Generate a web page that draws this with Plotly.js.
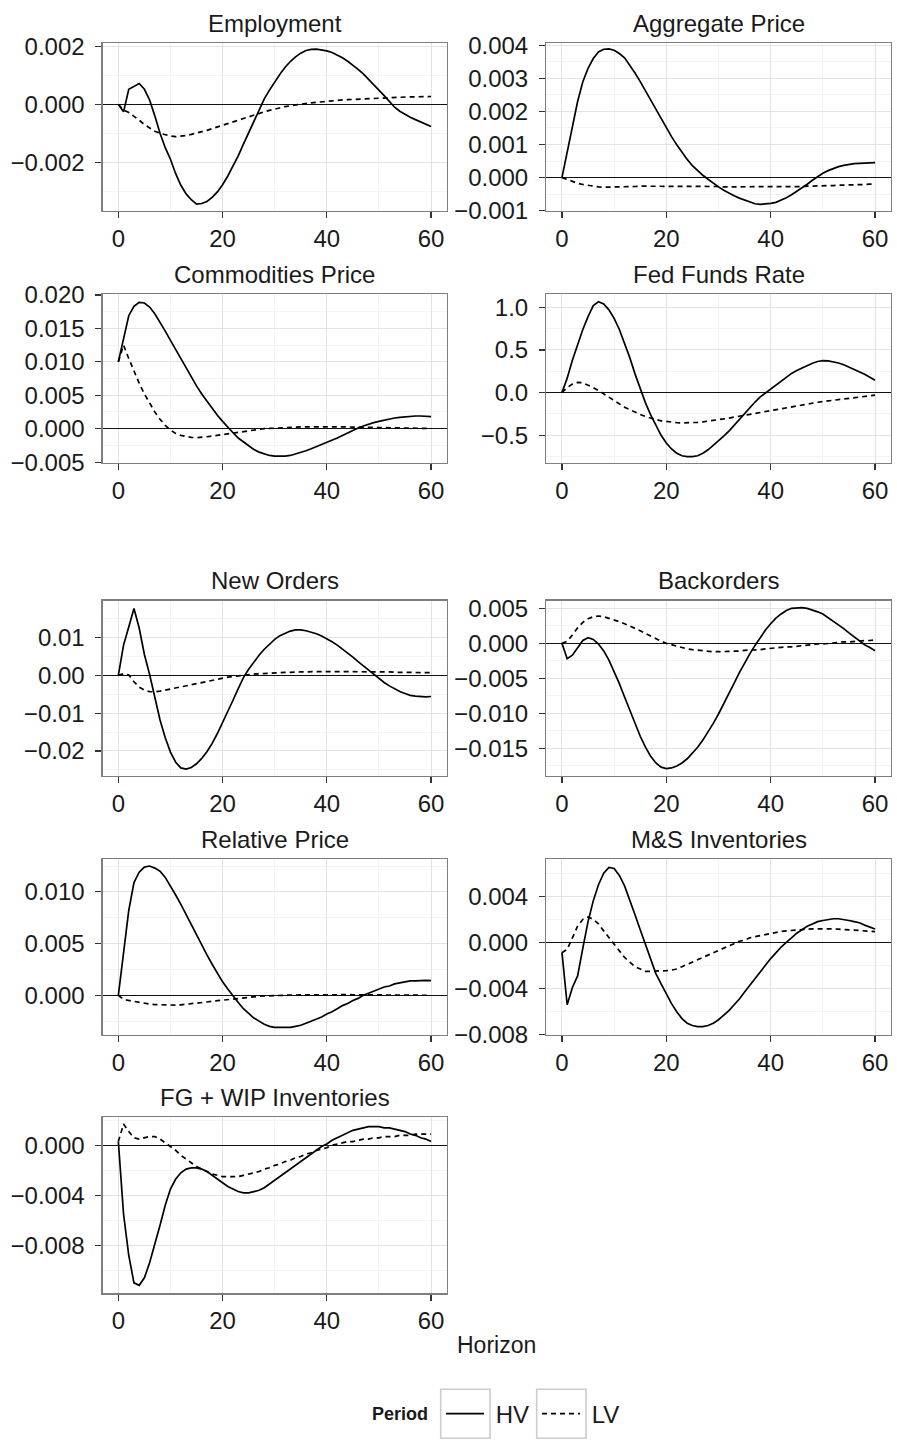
<!DOCTYPE html>
<html><head><meta charset="utf-8">
<script src="https://cdn.plot.ly/plotly-3.0.1.min.js"></script>
<style>html,body{margin:0;padding:0;background:#fff}#chart{width:897px;height:1450px}</style>
</head><body><div id="chart"></div>
<script>
const horizon = [0,1,2,3,4,5,6,7,8,9,10,11,12,13,14,15,16,17,18,19,20,21,22,23,24,25,26,27,28,29,30,
  31,32,33,34,35,36,37,38,39,40,41,42,43,44,45,46,47,48,49,50,51,52,53,54,55,56,57,58,59,60];

const panelTitles = ["Employment","Aggregate Price","Commodities Price","Fed Funds Rate","New Orders",
  "Backorders","Relative Price","M&S Inventories","FG + WIP Inventories"];
const periods = ["HV","LV"];

const employmentHV = [0,-0.00026,0.00052,0.00062,0.00072,0.00052,0.00015,-0.0004,-0.001,-0.0015,
  -0.0019,-0.0024,-0.0028,-0.0031,-0.0033,-0.00345,-0.00343,-0.00336,-0.00322,-0.00303,
  -0.00278,-0.00248,-0.00215,-0.00178,-0.00138,-0.00098,-0.00057,-0.00016,0.00019,0.00049,
  0.00078,0.00104,0.00128,0.00148,0.00164,0.00177,0.00186,0.0019,0.00191,0.00189,
  0.00185,0.00179,0.00171,0.00161,0.00149,0.00136,0.00121,0.00105,0.00087,0.00069,
  0.0005,0.0003,0.0001,-0.0001,-0.00024,-0.00035,-0.00045,-0.00053,-0.00061,-0.00069,-0.00077];
const employmentLV = [0,-0.0002,-0.00028,-0.0004,-0.00055,-0.0007,-0.00082,-0.00093,-0.001,-0.00106,
  -0.0011,-0.00112,-0.00111,-0.00108,-0.00104,-0.001,-0.00095,-0.0009,-0.00084,-0.00078,
  -0.00072,-0.00066,-0.0006,-0.00054,-0.00048,-0.00042,-0.00036,-0.00031,-0.00026,-0.00021,
  -0.00016,-0.00012,-0.00008,-0.00005,-0.00002,0.00001,0.00003,0.00005,0.00007,0.00009,
  0.0001,0.00012,0.00013,0.00015,0.00016,0.00017,0.00018,0.00019,0.0002,0.00021,
  0.00022,0.00023,0.00024,0.00024,0.00025,0.00025,0.00026,0.00026,0.00027,0.00027,0.00027];

const aggregateHV = [0,0.0008,0.0016,0.0023,0.0029,0.0033,0.0036,0.0038,0.00388,0.00389,
  0.00385,0.00375,0.00362,0.0034,0.00316,0.0029,0.00262,0.00234,0.00206,0.00178,
  0.0015,0.00124,0.00099,0.00076,0.00055,0.00036,0.0002,0.00007,-0.00005,-0.00017,
  -0.00028,-0.00038,-0.00047,-0.00055,-0.00062,-0.00068,-0.00075,-0.00079,-0.00081,-0.0008,
  -0.00078,-0.00075,-0.00069,-0.00061,-0.00052,-0.00042,-0.00031,-0.0002,-0.00008,0.00003,
  0.00013,0.00021,0.00028,0.00033,0.00037,0.0004,0.00042,0.00043,0.00044,0.00045,0.00045];
const aggregateLV = [0,-0.00006,-0.00012,-0.00017,-0.00021,-0.00024,-0.00027,-0.00028,-0.00029,-0.00029,
  -0.00029,-0.00028,-0.00028,-0.00027,-0.00027,-0.00026,-0.00026,-0.00026,-0.00025,-0.00025,
  -0.00025,-0.00025,-0.00025,-0.00025,-0.00026,-0.00026,-0.00026,-0.00026,-0.00027,-0.00027,
  -0.00027,-0.00028,-0.00028,-0.00028,-0.00028,-0.00029,-0.00029,-0.00029,-0.00029,-0.00029,
  -0.00029,-0.00029,-0.00028,-0.00028,-0.00028,-0.00027,-0.00027,-0.00026,-0.00026,-0.00025,
  -0.00025,-0.00024,-0.00024,-0.00023,-0.00023,-0.00022,-0.00022,-0.00021,-0.00021,-0.0002,-0.0002];

const commoditiesHV = [0.01,0.0135,0.0169,0.0183,0.0189,0.0188,0.0182,0.0172,0.016,0.0146,
  0.0132,0.0118,0.0104,0.009,0.0077,0.0064,0.0052,0.0041,0.003,0.002,
  0.0011,0.0002,-0.0006,-0.0014,-0.002,-0.0026,-0.0031,-0.0035,-0.0038,-0.004,
  -0.0041,-0.00415,-0.0041,-0.004,-0.0038,-0.0036,-0.0033,-0.003,-0.0027,-0.0024,
  -0.0021,-0.0017,-0.0014,-0.001,-0.0006,-0.0002,0.0001,0.0004,0.0007,0.0009,
  0.0011,0.0013,0.0015,0.0016,0.0017,0.0018,0.0019,0.0019,0.0019,0.0018,0.0018];
const commoditiesLV = [0.01,0.0125,0.0105,0.0086,0.0068,0.0052,0.0038,0.0025,0.0014,0.0005,
  -0.0002,-0.0007,-0.001,-0.0012,-0.0013,-0.00134,-0.0013,-0.0012,-0.0011,-0.001,
  -0.0009,-0.0008,-0.0006,-0.0005,-0.0004,-0.0003,-0.0002,-0.0001,0,0.00005,
  0.0001,0.00015,0.0002,0.00022,0.00025,0.00027,0.00028,0.00029,0.0003,0.0003,
  0.0003,0.00029,0.00028,0.00027,0.00026,0.00024,0.00022,0.0002,0.00018,0.00016,
  0.00014,0.00012,0.0001,0.00009,0.00008,0.00007,0.00006,0.00005,0.00004,0.00004,0.00003];

const fedFundsHV = [0,0.17,0.38,0.57,0.74,0.89,1.02,1.065,1.04,0.97,
  0.87,0.74,0.58,0.41,0.22,0.04,-0.12,-0.26,-0.39,-0.5,
  -0.59,-0.66,-0.71,-0.74,-0.75,-0.75,-0.74,-0.71,-0.67,-0.62,
  -0.57,-0.51,-0.45,-0.38,-0.31,-0.24,-0.17,-0.11,-0.05,-0.005,
  0.045,0.095,0.14,0.185,0.225,0.26,0.29,0.32,0.345,0.365,
  0.374,0.372,0.362,0.347,0.326,0.3,0.275,0.245,0.215,0.18,0.145];
const fedFundsLV = [0,0.06,0.1,0.12,0.115,0.09,0.06,0.025,-0.015,-0.055,
  -0.095,-0.135,-0.17,-0.2,-0.23,-0.255,-0.28,-0.3,-0.315,-0.33,
  -0.34,-0.347,-0.352,-0.354,-0.354,-0.352,-0.348,-0.342,-0.335,-0.327,
  -0.318,-0.308,-0.298,-0.287,-0.276,-0.265,-0.253,-0.241,-0.229,-0.217,
  -0.205,-0.194,-0.183,-0.172,-0.161,-0.151,-0.141,-0.131,-0.122,-0.113,
  -0.104,-0.096,-0.088,-0.08,-0.072,-0.065,-0.058,-0.051,-0.044,-0.037,-0.03];

const newOrdersHV = [0,0.008,0.0128,0.0177,0.0125,0.0055,0.0002,-0.0062,-0.0118,-0.0165,
  -0.0203,-0.023,-0.0245,-0.0248,-0.0244,-0.0234,-0.022,-0.0202,-0.018,-0.0154,
  -0.0126,-0.0097,-0.0066,-0.0035,-0.0006,0.0016,0.0035,0.0053,0.0069,0.0083,
  0.0095,0.0105,0.0112,0.0117,0.012,0.012,0.0118,0.0115,0.011,0.0104,
  0.0097,0.0089,0.008,0.007,0.0059,0.0048,0.0036,0.0025,0.0013,0.0002,
  -0.0009,-0.0019,-0.0028,-0.0036,-0.0043,-0.0048,-0.0053,-0.0055,-0.0057,-0.0057,-0.0056];
const newOrdersLV = [0,0.0004,0.0001,-0.0017,-0.0031,-0.0039,-0.0043,-0.0044,-0.0042,-0.0039,
  -0.0036,-0.0033,-0.003,-0.0027,-0.0024,-0.0021,-0.0018,-0.0015,-0.0012,-0.0009,
  -0.0007,-0.0005,-0.0003,-0.0001,0,0.0002,0.0003,0.0004,0.0005,0.0006,
  0.0007,0.0007,0.0008,0.0008,0.0009,0.0009,0.0009,0.001,0.001,0.001,
  0.001,0.001,0.001,0.001,0.001,0.001,0.001,0.001,0.001,0.0009,
  0.0009,0.0009,0.0009,0.0008,0.0008,0.0008,0.0008,0.0007,0.0007,0.0007,0.0007];

const backordersHV = [0,-0.0022,-0.0017,-0.0006,0.0004,0.0008,0.00056,-0.0001,-0.00108,-0.0024,
  -0.00398,-0.00576,-0.00767,-0.00962,-0.01151,-0.01328,-0.01484,-0.01613,-0.0171,-0.01769,
  -0.0179,-0.01781,-0.01754,-0.0171,-0.0165,-0.01575,-0.01485,-0.01383,-0.01268,-0.01144,
  -0.0101,-0.0087,-0.0072,-0.0057,-0.0042,-0.0028,-0.0015,-0.0003,0.0009,0.0019,
  0.0028,0.0036,0.0042,0.0047,0.005,0.0051,0.0051,0.005,0.0048,0.0045,
  0.0042,0.0037,0.0032,0.0027,0.0021,0.0015,0.0009,0.0003,-0.0002,-0.0006,-0.00106];
const backordersLV = [0,0.0003,0.0012,0.0022,0.003,0.0035,0.0038,0.0039,0.0038,0.0036,
  0.0034,0.0031,0.0028,0.0025,0.0021,0.0018,0.0014,0.001,0.0007,0.0003,
  0,-0.0002,-0.0005,-0.0007,-0.0008,-0.0009,-0.001,-0.0011,-0.0011,-0.0012,
  -0.0012,-0.0012,-0.0011,-0.0011,-0.0011,-0.001,-0.001,-0.0009,-0.0009,-0.0008,
  -0.0007,-0.0007,-0.0006,-0.0005,-0.0005,-0.0004,-0.0003,-0.0003,-0.0002,-0.0001,
  -0.0001,0,0,0.0001,0.0002,0.0002,0.0003,0.0003,0.0004,0.0004,0.0005];

const relativeHV = [0,0.0042,0.0082,0.0109,0.0119,0.0124,0.0125,0.0123,0.012,0.0114,
  0.0106,0.0097,0.0088,0.0078,0.0068,0.0058,0.0048,0.0039,0.003,0.0021,
  0.0013,0.0006,-0.0001,-0.0007,-0.0013,-0.0018,-0.0022,-0.0025,-0.0028,-0.003,
  -0.0031,-0.0031,-0.0031,-0.0031,-0.003,-0.0029,-0.0027,-0.0025,-0.0023,-0.0021,
  -0.0018,-0.0016,-0.0013,-0.001,-0.0008,-0.0005,-0.0003,0,0.0002,0.0004,
  0.0006,0.0008,0.0009,0.0011,0.0012,0.0013,0.0014,0.0014,0.00145,0.00144,0.00141];
const relativeLV = [0,-0.0004,-0.0005,-0.0006,-0.0007,-0.0008,-0.00085,-0.0009,-0.00093,-0.00095,
  -0.00096,-0.00095,-0.00092,-0.00088,-0.00083,-0.00077,-0.00071,-0.00065,-0.00058,-0.00052,
  -0.00046,-0.0004,-0.00034,-0.00028,-0.00023,-0.00018,-0.00014,-0.0001,-0.00007,-0.00004,
  -0.00002,0,0.00001,0.00002,0.00003,0.00004,0.00005,0.00005,0.00006,0.00006,
  0.00006,0.00006,0.00006,0.00006,0.00006,0.00005,0.00005,0.00005,0.00004,0.00004,
  0.00003,0.00003,0.00002,0.00002,0.00001,0.00001,0,0,0,0,0];

const msInvHV = [-0.00086,-0.0054,-0.0039,-0.0029,-0.0005,0.0018,0.0036,0.005,0.006,0.0065,
  0.0064,0.0058,0.0049,0.0037,0.0024,0.0011,-0.0002,-0.0015,-0.0027,-0.0036,
  -0.0045,-0.0053,-0.006,-0.0066,-0.007,-0.0072,-0.0073,-0.0073,-0.0072,-0.007,
  -0.0067,-0.0063,-0.0059,-0.0054,-0.0049,-0.0043,-0.0037,-0.0031,-0.0025,-0.002,
  -0.0014,-0.0009,-0.0004,0,0.0004,0.0008,0.0011,0.0014,0.0016,0.0018,
  0.0019,0.002,0.00205,0.00205,0.002,0.0019,0.0018,0.0017,0.0015,0.0013,0.00116];
const msInvLV = [-0.0009,-0.0006,0.0004,0.0014,0.002,0.0022,0.002,0.0016,0.001,0.0004,
  -0.0002,-0.0008,-0.0013,-0.0017,-0.0021,-0.0023,-0.0025,-0.0025,-0.0025,-0.00248,
  -0.00245,-0.0024,-0.0023,-0.0021,-0.0019,-0.0017,-0.0015,-0.0013,-0.0011,-0.0009,
  -0.0007,-0.0005,-0.0003,-0.0001,0.0001,0.0002,0.0004,0.0005,0.0006,0.0007,
  0.0008,0.0009,0.00095,0.001,0.00105,0.0011,0.00113,0.00115,0.00117,0.00118,
  0.00118,0.00118,0.00117,0.00115,0.00113,0.0011,0.00107,0.00104,0.001,0.00097,0.00094];

const fgWipHV = [0.0003,-0.0055,-0.0088,-0.011,-0.0112,-0.0106,-0.0094,-0.008,-0.0064,-0.0048,
  -0.0035,-0.0027,-0.0022,-0.0019,-0.0018,-0.0018,-0.0019,-0.0021,-0.0024,-0.0027,
  -0.003,-0.0033,-0.0035,-0.0037,-0.0038,-0.0038,-0.0037,-0.0036,-0.0034,-0.0031,
  -0.0028,-0.0025,-0.0022,-0.0019,-0.0016,-0.0013,-0.001,-0.0007,-0.0004,-0.0001,
  0.0001,0.0004,0.0006,0.0008,0.001,0.0012,0.0013,0.0014,0.0015,0.0015,
  0.0015,0.0014,0.0014,0.0013,0.0012,0.0011,0.0009,0.0008,0.0006,0.0005,0.0003];
const fgWipLV = [0.0003,0.0017,0.0011,0.0006,0.0005,0.0006,0.0007,0.0007,0.0005,0.0002,
  -0.0001,-0.0004,-0.0008,-0.0011,-0.0014,-0.0017,-0.0019,-0.0021,-0.0023,-0.0024,
  -0.0025,-0.0025,-0.0025,-0.0025,-0.0024,-0.0023,-0.0022,-0.0021,-0.0019,-0.0018,
  -0.0016,-0.0015,-0.0013,-0.0012,-0.001,-0.0009,-0.0007,-0.0006,-0.0004,-0.0003,
  -0.0002,0,0.0001,0.0002,0.0003,0.0003,0.0004,0.0005,0.0005,0.0006,
  0.0006,0.0007,0.0007,0.0007,0.0008,0.0008,0.0008,0.0009,0.0009,0.0009,0.0009];

const hvSeries = [employmentHV,aggregateHV,commoditiesHV,fedFundsHV,newOrdersHV,backordersHV,relativeHV,msInvHV,fgWipHV];
const lvSeries = [employmentLV,aggregateLV,commoditiesLV,fedFundsLV,newOrdersLV,backordersLV,relativeLV,msInvLV,fgWipLV];

// axis settings per panel
const yRanges = [[-0.00369,0.00211],[-0.00101,0.00406],[-0.0051,0.0201],[-0.822,1.152],[-0.02664,0.01974],
  [-0.01896,0.00609],[-0.00384,0.01315],[-0.00802,0.0072],[-0.01184,0.00224]];
const yDticks = [0.002,0.001,0.005,0.5,0.01,0.005,0.005,0.004,0.004];
const yFormats = [".3f",".3f",".3f",".1f",".2f",".3f",".3f",".3f",".3f"];

const W = 897, H = 1450;
const colPx = [[102.7,446.7],[546.3,890.7]];
const rowPx = [[43.3,211],[294.3,462.8],[600.7,776],[859.3,1035],[1117.3,1293.3]];
const FONT = "Liberation Sans, Arial, Helvetica, sans-serif";

const traces = [];
const layout = {
  width: W, height: H,
  margin: {l:0,r:0,t:0,b:0},
  paper_bgcolor: "#ffffff", plot_bgcolor: "#ffffff",
  font: {family: FONT, size: 24, color: "#1a1a1a"},
  annotations: [], shapes: [],
  legend: {x: 441/W, y: 1-1414/H, xanchor: "left", yanchor: "middle", orientation: "h",
    bgcolor: "rgba(0,0,0,0)", font: {size: 24, color: "#1a1a1a"}, itemwidth: 38, borderwidth: 0},
  legend2: {x: 537/W, y: 1-1414/H, xanchor: "left", yanchor: "middle", orientation: "h",
    bgcolor: "rgba(0,0,0,0)", font: {size: 24, color: "#1a1a1a"}, itemwidth: 38, borderwidth: 0}
};

panelTitles.forEach((title, i) => {
  const k = i + 1, sfx = k > 1 ? String(k) : "";
  const col = colPx[i % 2], row = rowPx[Math.floor(i / 2)];
  traces.push({x: horizon, y: hvSeries[i], xaxis: "x"+sfx, yaxis: "y"+sfx, type: "scatter", mode: "lines",
    name: "\u00a0" + periods[0], legend: "legend", showlegend: i === 0, line: {color: "#000", width: 1.7}, hoverinfo: "skip"});
  traces.push({x: horizon, y: lvSeries[i], xaxis: "x"+sfx, yaxis: "y"+sfx, type: "scatter", mode: "lines",
    name: "\u00a0" + periods[1], legend: "legend2", showlegend: i === 0, line: {color: "#000", width: 1.7, dash: "5px,4px"}, hoverinfo: "skip"});
  layout["xaxis"+sfx] = {
    domain: [col[0]/W, col[1]/W], anchor: "y"+sfx, range: [-3, 63],
    tick0: 0, dtick: 20, ticks: "outside", ticklen: 6, tickwidth: 1.2, tickcolor: "#333",
    ticklabelstandoff: 0, showline: true, mirror: true, linecolor: "#7f7f7f", linewidth: 1.3,
    showgrid: true, gridcolor: "#e3e3e3", gridwidth: 1, zeroline: false,
    minor: {dtick: 10, tick0: 0, showgrid: true, gridcolor: "#f3f3f3", ticks: ""},
    tickfont: {size: 24, color: "#1a1a1a"}, fixedrange: true
  };
  layout["yaxis"+sfx] = {
    domain: [1 - row[1]/H, 1 - row[0]/H], anchor: "x"+sfx, range: yRanges[i],
    tick0: 0, dtick: yDticks[i], tickformat: yFormats[i], ticks: "outside", ticklen: 6, tickwidth: 1.2, tickcolor: "#333",
    ticklabelstandoff: 6, showline: true, mirror: true, linecolor: "#7f7f7f", linewidth: 1.3,
    showgrid: true, gridcolor: "#e3e3e3", gridwidth: 1,
    zeroline: true, zerolinecolor: "#111", zerolinewidth: 1,
    minor: {dtick: yDticks[i]/2, tick0: 0, showgrid: true, gridcolor: "#f3f3f3", ticks: ""},
    tickfont: {size: 24, color: "#1a1a1a"}, fixedrange: true
  };
  layout.annotations.push({text: title, xref: "paper", yref: "paper",
    x: (col[0]+col[1])/2/W, y: 1 - (row[0]-20)/H, xanchor: "center", yanchor: "middle",
    showarrow: false, font: {size: 24, color: "#1a1a1a"}});
});

layout.annotations.push({text: "Horizon", xref: "paper", yref: "paper", x: 496/W, y: 1-1345/H,
  xanchor: "center", yanchor: "middle", showarrow: false, font: {size: 23, color: "#1a1a1a"}});
layout.annotations.push({text: "<b>Period</b>", xref: "paper", yref: "paper", x: 400/W, y: 1-1414/H,
  xanchor: "center", yanchor: "middle", showarrow: false, font: {size: 18, color: "#1a1a1a"}});
[[440.7,490],[536.7,586]].forEach(b => {
  layout.shapes.push({type: "rect", xref: "paper", yref: "paper", x0: b[0]/W, x1: b[1]/W,
    y0: 1-1438.3/H, y1: 1-1389.3/H, line: {color: "#cccccc", width: 1.6}, fillcolor: "rgba(0,0,0,0)"});
});

Plotly.newPlot("chart", traces, layout, {staticPlot: true, displayModeBar: false});
</script></body></html>
